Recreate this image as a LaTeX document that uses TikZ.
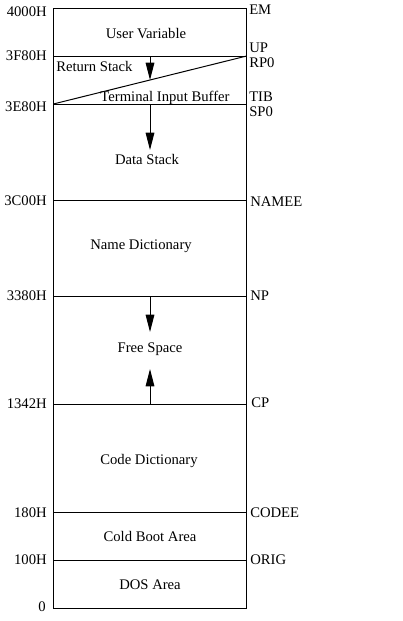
\documentclass[tikz,border=0pt]{standalone}
\usepackage{fontspec}
\setmainfont{Liberation Serif}
\usepackage{tikz}
\usetikzlibrary{arrows.meta,positioning}

\begin{document}
\begin{tikzpicture}[x=0.75pt,y=-0.75pt]

\tikzset{myarrow/.style={-{Triangle[length=13pt,width=6.5pt]}, line width=0.75pt},
  area/.style={inner sep=0pt, font=\fontsize{11}{13}\selectfont, text height=1.5ex, text depth=0pt},
  addr/.style={area, anchor=east},
  ptr/.style={area, anchor=west}}

    \useasboundingbox (0,0) rectangle (403,621);

    % Box edges
    \def\xL{53.3} % left side of the map
    \def\xR{246.7} % right side of the map
    \def\xM{150} % column of the arrows

    \draw[line width=0.75pt] (\xL,8) rectangle (\xR,608);
    \foreach \y in {56,104,200,296,404,512.5,560}
      \draw[line width=0.75pt] (\xL,\y) -- (\xR,\y);

    % Return stack meets the input buffer
    \coordinate (TibLo) at (\xL,104);
    \coordinate (RpHi) at (\xR,56);
    \draw[line width=0.75pt] (TibLo) -- (RpHi);

    % Addresses on the left
    \node[addr] (A4000) at (47,12) {4000H};
    \node[addr] (A3F80) at (47,56) {3F80H};
    \node[addr] (A3E80) at (47,107) {3E80H};
    \node[addr] (A3C00) at (47,201) {3C00H};
    \node[addr] (A3380) at (47,296) {3380H};
    \node[addr] (A1342) at (47,404) {1342H};
    \node[addr] (A180) at (47,513) {180H};
    \node[addr] (A100) at (47,560) {100H};
    \node[addr] (A0) at (46,607) {0};

    % Pointers on the right
    \node[ptr] (EM) at (249,10) {EM};
    \node[ptr] (UP) at (249,48) {UP};
    \node[ptr] (RP0) at (249,63) {RP0};
    \node[ptr] (TIB) at (249,97) {TIB};
    \node[ptr] (SP0) at (249,112) {SP0};
    \node[ptr] (NAMEE) at (250,202) {NAMEE};
    \node[ptr] (NP) at (250,296) {NP};
    \node[ptr] (CP) at (251,403) {CP};
    \node[ptr] (CODEE) at (250,513) {CODEE};
    \node[ptr] (ORIG) at (250,560) {ORIG};

    % Areas
    \node[area] (UserVar) at (146,34) {User Variable};
    \node[area, anchor=west] (RetStack) at (56,67) {Return Stack};
    \node[area] (TibArea) at (165,97) {Terminal Input Buffer};
    \node[area] (DataStack) at (147,160) {Data Stack};
    \node[area] (NameDict) at (141,245) {Name Dictionary};
    \node[area] (FreeSp) at (150,348) {Free Space};
    \node[area] (CodeDict) at (149,460) {Code Dictionary};
    \node[area] (ColdBoot) at (150,537) {Cold Boot Area};
    \node[area] (DosArea) at (150,585) {DOS Area};

    % Growth arrows
    \coordinate (RpTop) at (\xM,56);
    \coordinate (RpTip) at (\xM,80);
    \coordinate (SpTop) at (\xM,104);
    \coordinate (SpTip) at (\xM,150);
    \coordinate (NpTop) at (\xM,296);
    \coordinate (NpTip) at (\xM,332);
    \coordinate (CpBot) at (\xM,404);
    \coordinate (CpTip) at (\xM,369);
    \draw[myarrow] (RpTop) -- (RpTip);
    \draw[myarrow] (SpTop) -- (SpTip);
    \draw[myarrow] (NpTop) -- (NpTip);
    \draw[myarrow] (CpBot) -- (CpTip);

\end{tikzpicture}
\end{document}
